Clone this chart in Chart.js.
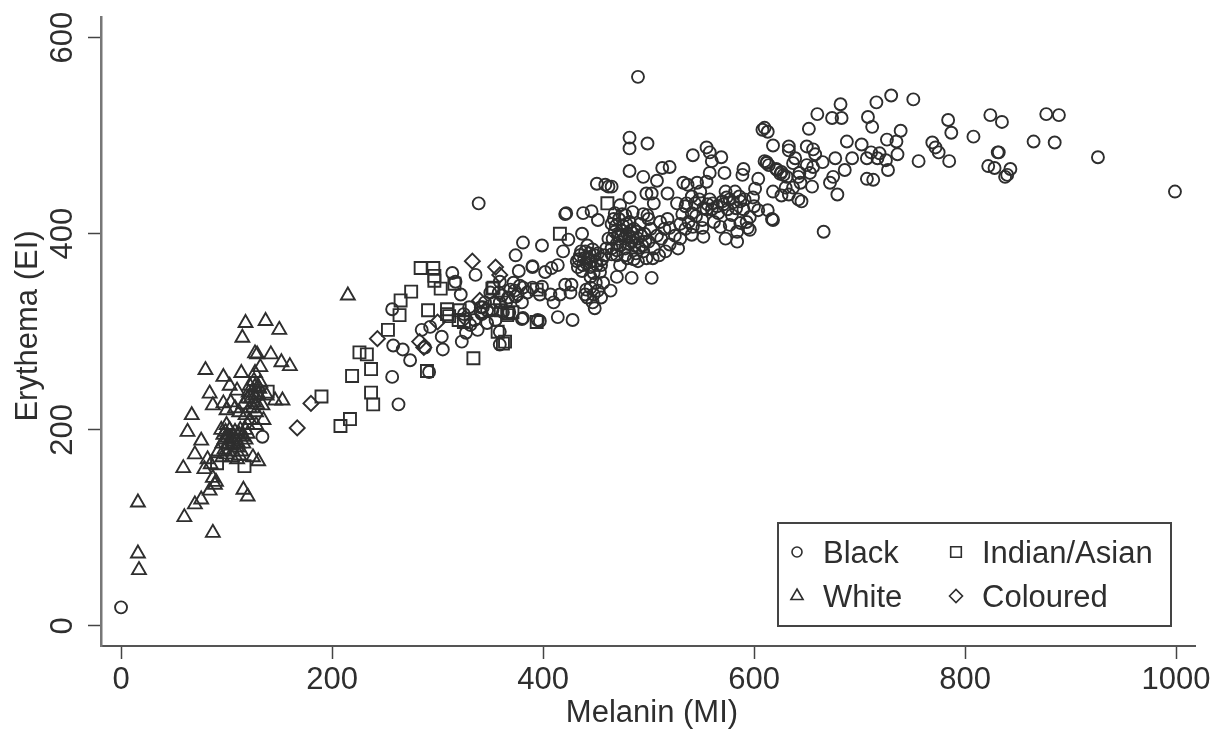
<!DOCTYPE html>
<html>
<head>
<meta charset="utf-8">
<title>Melanin and erythema</title>
<script src="https://cdn.jsdelivr.net/npm/chart.js@4/dist/chart.umd.min.js"></script>
<style>
body { margin: 0; background: #fff; }
canvas { display: block; }
</style>
</head>
<body>
<canvas id="chart" width="1221" height="730"></canvas>
<script>
// values as [melanin, erythema]
const black = [
[0,19],[134,193],[257,323],[258,286],[267,282],[274,271],[288,284],[305,282],[304,295],[293,305],[285,302],
[292,259],[257,254],[263,226],[323,290],[327,299],[331,307],[347,309],[359,287],[359,300],[314,360],[317,351],
[322,338],[341,325],[336,358],[339,431],[381,391],[374,378],[390,367],[377,362],[381,314],[395,312],[397,311],
[359,351],[369,343],[381,345],[374,336],[359,330],[362,320],[343,325],[414,315],[428,312],[380,313],[399,388],
[424,394],[419,382],[390,366],[402,361],[408,365],[414,368],[421,348],[427,348],[399,346],[397,338],[407,338],
[416,338],[426,340],[410,330],[449,324],[457,350],[441,343],[440,338],[421,420],[422,421],[438,421],[446,423],
[437,400],[451,451],[459,450],[462,448],[465,448],[482,437],[498,441],[503,441],[518,441],[505,431],[473,429],
[452,414],[468,421],[478,419],[499,419],[511,412],[527,431],[536,431],[520,406],[504,375],[516,382],[520,389],
[482,397],[503,355],[484,355],[470,356],[454,361],[465,379],[445,356],[464,342],
[432,372],[435,378],[438,368],[440,382],[443,375],[445,366],[447,384],[450,372],[452,380],[437,362],[442,388],
[448,360],[455,368],[458,378],[460,385],[462,395],[465,410],[468,402],[470,390],[472,415],[474,398],[476,408],
[478,385],[480,400],[482,412],[484,392],[486,405],[488,380],[490,395],[492,410],[494,388],[496,400],[498,375],
[500,392],[502,405],[505,385],[508,398],[510,378],[475,420],[485,422],[465,385],[470,378],[480,375],[490,372],
[473,368],[495,420],[500,415],[512,395],[515,405],[518,415],[525,398],[530,410],[528,385],[445,345],[448,338],
[450,350],[452,342],[455,335],[442,335],[447,330],[325,318],[330,325],[335,312],[338,302],[342,318],[345,330],
[350,340],[352,322],[355,312],[358,340],[365,330],[368,320],[372,350],[376,338],[380,330],[385,340],[390,345],
[490,560],[482,498],[482,487],[499,492],[482,464],[495,458],[508,454],[513,467],[520,468],[542,480],[555,488],
[558,483],[560,474],[569,478],[572,462],[558,462],[533,452],[537,450],[555,453],[590,466],[589,460],[604,456],
[601,446],[610,508],[608,506],[613,504],[618,490],[610,474],[612,472],[621,466],[626,463],[628,460],[633,489],
[633,485],[639,477],[637,472],[652,507],[660,522],[674,518],[682,532],[683,518],[650,489],[656,486],[658,481],
[650,470],[656,468],[643,462],[653,462],[644,452],[655,448],[637,447],[618,443],[626,439],[642,435],[645,433],
[665,473],[677,477],[675,458],[672,452],[679,440],[686,465],[666,402],[688,494],[693,477],[702,491],[707,477],
[711,483],[717,477],[719,482],[707,456],[713,455],[726,496],[735,494],[739,505],[736,481],[725,475],[727,465],
[708,519],[712,509],[716,534],[730,541],[751,537],[756,474],[769,493],[772,488],[775,483],[785,474],[787,503],
[784,516],[808,499],[824,521],[835,514],[831,483],[832,483],[822,469],[828,467],[843,466],[838,458],[840,460],
[865,494],[877,522],[889,521],[885,493],[926,478],[999,443],
[546,452],[549,443],[541,438],[573,443],[582,443],[577,435],[570,433],[591,435],[599,437],[587,433],[561,431],
[552,426],[544,431],[541,421],[604,424],[613,424],[617,415],[618,414],[596,417],[579,419],[566,421],[551,414],
[596,404],[587,411],[577,409],[568,407],[551,406],[542,407],[573,395],[584,392],[584,402],[594,406],[552,397],
[541,399],[532,420],[535,428],[538,412],[545,418],[548,435],[555,425],[558,435],[562,412],[565,428],[575,425],
[580,432],[590,425],[593,412],[600,428],[530,395],[535,405],[630,447],[633,440],[642,458],
[434,374],[436,382],[439,375],[441,370],[444,380],[446,372],[449,378],[451,368],[433,366],[456,374],
[466,395],[469,408],[471,398],[473,388],[475,403],[477,395],[479,410],[481,390],[483,403],[485,396],
[487,388],[489,402],[491,386],[493,398],[495,382],[467,415],[470,383],[478,378],[486,374],[497,392],
[556,430],[560,425],[571,430],[574,437],[583,426],[586,438],[612,473],[614,470],[622,465],[625,461],[631,458],
[341,320],[347,322],[354,330],[361,337],[367,335],[373,342],[378,347]
];
const white = [
[16,126],[16,74],[17,57],[60,111],[70,124],[76,129],[87,95],[59,161],[63,198],[67,215],[80,261],[84,237],
[76,189],[70,175],[79,160],[87,225],[97,254],[103,245],[114,258],[97,227],[118,309],[115,294],[137,311],
[150,302],[127,278],[129,277],[142,277],[152,269],[160,265],[132,264],[127,258],[130,244],[153,230],[146,230],
[116,139],[120,132],[87,151],[89,144],[84,138],[90,147],[215,337],
[95,200],[97,195],[98,190],[100,205],[102,185],[104,192],[106,188],[108,198],[110,182],[112,195],[114,178],
[116,186],[118,200],[120,205],[122,210],[92,178],[96,172],[100,175],[105,172],[110,170],[125,172],[130,168],
[82,170],[85,165],[104,228],[108,222],[112,218],[116,226],[118,215],[120,232],[122,222],[124,238],[126,228],
[128,218],[130,236],[132,248],[134,225],[126,250],[122,245],[135,210],[128,205],[138,235],[110,240],[100,220],
[96,186],[99,198],[101,192],[103,200],[105,184],[107,193],[109,190],[111,186],[113,200],[115,193],[118,190],
[120,196],[98,180],[106,178],[112,174],[127,235],[129,226],[123,232],[125,222],[131,242],[121,238],[127,244]
];
const indian = [
[208,204],[217,211],[219,255],[226,279],[233,277],[237,262],[237,238],[239,226],[253,302],[264,317],[265,332],
[275,341],[284,365],[296,365],[297,357],[297,352],[303,344],[291,322],[290,260],[190,234],[316,349],[309,323],
[311,316],[334,273],[325,310],[352,344],[362,288],[360,322],[366,317],[371,320],[416,400],[461,431],[117,163],
[139,239],[91,166],[353,345],[309,318],[321,322],[320,312],[364,290],[357,300],[367,319],[394,310],[394,343]
];
const coloured = [
[167,202],[180,227],[243,293],[333,372],[355,366],[287,284],[283,290],[340,332],[300,310],[359,358],[326,314]
];
const xTicks = [0, 200, 400, 600, 800, 1000];
const yTicks = [0, 200, 400, 600];
const xTitle = 'Melanin (MI)';
const yTitle = 'Erythema (EI)';

const INK = '#2e2e2e';
const FAMILY = '"Liberation Sans", Arial, sans-serif';
const FONT = '31px ' + FAMILY;
const pts = arr => arr.map(p => ({ x: p[0], y: p[1] }));
const series = (label, arr, pointStyle, pointRadius) => ({
    label, data: pts(arr), pointStyle, pointRadius,
    pointBorderColor: INK, pointBackgroundColor: 'rgba(0,0,0,0)', pointBorderWidth: 1.9, showLine: false
});

// stata style titles and the two column key sit at fixed spots, so they get drawn here
const extras = {
    id: 'extras',
    afterDraw(chart) {
        const ctx = chart.ctx;
        ctx.save();
        ctx.fillStyle = INK;
        ctx.font = FONT;
        ctx.textBaseline = 'alphabetic';
        ctx.textAlign = 'center';
        ctx.fillText(xTitle, 652, 722);
        ctx.save();
        ctx.translate(37, 326);
        ctx.rotate(-Math.PI / 2);
        ctx.fillText(yTitle, 0, 0);
        ctx.restore();

        ctx.strokeStyle = '#444';
        ctx.lineWidth = 2;
        ctx.strokeRect(778, 523, 393, 103);
        ctx.textAlign = 'left';
        chart.data.datasets.forEach((ds, i) => {
            const col = i % 2 ? 956 : 797, row = i < 2 ? 552 : 596;
            ctx.strokeStyle = INK;
            ctx.lineWidth = 1.6;
            ctx.fillStyle = 'rgba(0,0,0,0)';
            Chart.helpers.drawPoint(ctx, { pointStyle: ds.pointStyle, radius: ds.pointRadius - 1, rotation: 0, borderWidth: 1.6 }, col, row);
            ctx.fillStyle = INK;
            ctx.fillText(ds.label, i % 2 ? 982 : 823, i < 2 ? 563 : 607);
        });
        ctx.restore();
    }
};

new Chart(document.getElementById('chart'), {
    type: 'scatter',
    data: {
        datasets: [
            series('Black', black, 'circle', 6),
            series('Indian/Asian', indian, 'rect', 8.5),
            series('White', white, 'triangle', 8),
            series('Coloured', coloured, 'rectRot', 7.5)
        ]
    },
    options: {
        responsive: false,
        animation: false,
        events: [],
        layout: { padding: { top: 15, right: 26, left: 0, bottom: 0 } },
        plugins: { legend: { display: false }, tooltip: { enabled: false } },
        scales: {
            x: {
                type: 'linear',
                min: -19,
                max: 1018,
                afterBuildTicks: s => { s.ticks = xTicks.map(v => ({ value: v })); },
                afterFit: s => { s.height = 84; },
                grid: { drawOnChartArea: false, tickLength: 13, tickColor: '#444', tickWidth: 1.5 },
                border: { color: '#555', width: 2 },
                ticks: { color: INK, font: { family: FAMILY, size: 31 }, padding: 3, maxRotation: 0, autoSkip: false, callback: v => String(v) }
            },
            y: {
                type: 'linear',
                min: -20.4,
                max: 620.4,
                afterBuildTicks: s => { s.ticks = yTicks.map(v => ({ value: v })); },
                afterFit: s => { s.width = 101; },
                grid: { drawOnChartArea: false, tickLength: 13, tickColor: '#444', tickWidth: 1.5 },
                border: { color: '#777', width: 2.5 },
                ticks: { color: INK, font: { family: FAMILY, size: 31 }, padding: -1, minRotation: 90, maxRotation: 90, crossAlign: 'center', autoSkip: false }
            }
        }
    },
    plugins: [extras]
});
</script>
</body>
</html>
